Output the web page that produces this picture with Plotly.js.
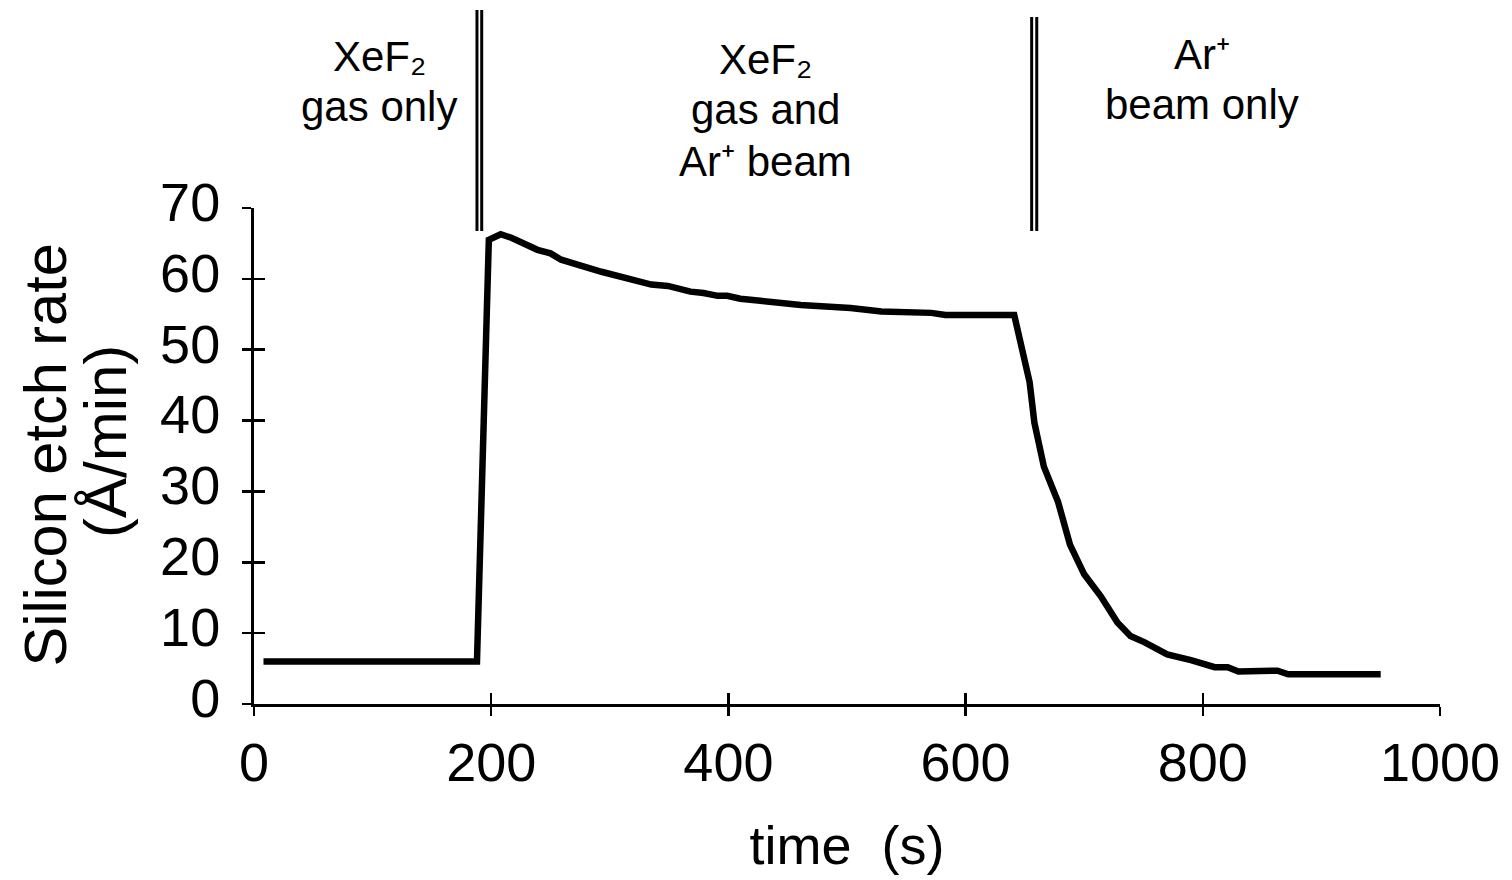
<!DOCTYPE html>
<html>
<head>
<meta charset="utf-8">
<script src="https://cdn.plot.ly/plotly-3.0.1.min.js"></script>
<style>html,body{margin:0;padding:0;background:#fff;}#chart{width:1512px;height:880px;}</style>
</head>
<body>
<div id="chart"></div>
<script>
// ---- data ----
const timeS = [8, 188, 198, 208, 217, 228, 239, 250, 259, 293, 335, 349, 368, 379, 391, 399, 410, 427, 461, 503, 529, 571, 583, 641,
               649, 654, 658, 666, 678, 688, 700, 714, 728, 739, 751, 770, 790, 810, 821, 830, 863, 872, 950];
const etchRate = [6, 6, 65.5, 66.3, 65.8, 65.0, 64.1, 63.6, 62.7, 61.0, 59.2, 59.0, 58.2, 58.0, 57.6, 57.6, 57.2, 56.9, 56.3, 55.9, 55.4, 55.2, 54.9, 54.9,
                  49.0, 45.4, 39.7, 33.5, 28.5, 22.5, 18.3, 15.2, 11.5, 9.6, 8.7, 7.0, 6.2, 5.2, 5.2, 4.6, 4.7, 4.2, 4.2];
const xTicks = [0, 200, 400, 600, 800, 1000];
const yTicks = [0, 10, 20, 30, 40, 50, 60, 70];
const phaseBoundaries = [[188, 192], [655.7, 660]];
const phaseLabelLines = [
  ["XeF\u2082", "gas only"],
  ["XeF\u2082", "gas and", "Ar\u207A beam"],
  ["Ar\u207A", "beam only"]
];
const phaseLabelX = [105.5, 431.5, 799];
const yTitleLines = ["Silicon etch rate", "(Å/min)"];
const xTitle = "time\u00a0\u00a0(s)";

// ---- layout geometry ----
const L = 254, R = 72, T = 208, B = 176, FW = 1512, FH = 880;
const PW = FW - L - R, PH = FH - T - B;
const py = p => (FH - B - p) / PH;   // pixel y -> paper y
const px = p => (p - L) / PW;        // pixel x -> paper x
const FONT = "Liberation Sans, Arial, Helvetica, sans-serif";

const traces = [
  {x: timeS, y: etchRate, type: 'scatter', mode: 'lines', line: {color: '#000', width: 6.5}, hoverinfo: 'skip', showlegend: false},
  {x: timeS, y: etchRate, xaxis: 'x2', yaxis: 'y2', type: 'scatter', mode: 'none', hoverinfo: 'skip', showlegend: false}
];

const shapes = [];
phaseBoundaries.forEach((pair, i) => {
  pair.forEach(xv => {
    shapes.push({type: 'line', xref: 'x', yref: 'paper', x0: xv, x1: xv,
      y0: py(231), y1: py(i === 0 ? 10 : 17), line: {color: '#000', width: 3}});
  });
});

// phase labels: one annotation per line, positioned by target baseline (px)
const AF = 42, ASC = 0.905 * AF, DESC = 0.212 * AF;
const lineBaselines = [[71, 121], [74, 124, 176], [69, 119]];
const annotations = [];
phaseLabelLines.forEach((lines, i) => {
  lines.forEach((t, j) => {
    const base = lineBaselines[i][j];
    annotations.push({text: t, xref: 'x', yref: 'paper', x: phaseLabelX[i],
      y: py(base - (ASC - (ASC + DESC) / 2)),
      xanchor: 'center', yanchor: 'middle', showarrow: false, align: 'center', borderpad: 0,
      font: {family: FONT, size: AF, color: '#000'}});
  });
});
annotations.push({text: yTitleLines[0], xref: 'paper', yref: 'paper', x: px(44.5), y: py(455),
  xanchor: 'center', yanchor: 'middle', textangle: -90, showarrow: false, borderpad: 0,
  font: {family: FONT, size: 59.5, color: '#000'}});
annotations.push({text: yTitleLines[1], xref: 'paper', yref: 'paper', x: px(105), y: py(442),
  xanchor: 'center', yanchor: 'middle', textangle: -90, showarrow: false, borderpad: 0,
  font: {family: FONT, size: 60, color: '#000'}});

const axBase = {showgrid: false, zeroline: false, fixedrange: true};
const layout = {
  width: FW, height: FH,
  margin: {l: L, r: R, t: T, b: B, pad: 0},
  paper_bgcolor: '#fff', plot_bgcolor: '#fff',
  font: {family: FONT, color: '#000'},
  showlegend: false,
  xaxis: Object.assign({}, axBase, {range: [0, 1000], tickvals: xTicks, ticktext: xTicks.map(String),
    ticks: 'outside', ticklen: 9, tickwidth: 2.5, tickcolor: '#000',
    showline: true, linecolor: '#000', linewidth: 3,
    tickfont: {family: FONT, size: 54, color: '#000'}, ticklabelstandoff: 0,
    title: {text: xTitle, font: {family: FONT, size: 54, color: '#000'}, standoff: 36}}),
  yaxis: Object.assign({}, axBase, {range: [0, 70], tickvals: yTicks, ticktext: yTicks.map(String),
    ticks: 'outside', ticklen: 9, tickwidth: 2.5, tickcolor: '#000',
    showline: true, linecolor: '#000', linewidth: 3,
    tickfont: {family: FONT, size: 54, color: '#000'}, ticklabelstandoff: 11, ticklabelshift: -6}),
  xaxis2: Object.assign({}, axBase, {range: [0, 1000], overlaying: 'x', anchor: 'y2', side: 'bottom',
    tickvals: xTicks, ticks: 'inside', ticklen: 11, tickwidth: 2.5, tickcolor: '#000', showticklabels: false, showline: false}),
  yaxis2: Object.assign({}, axBase, {range: [0, 70], overlaying: 'y', anchor: 'x2', side: 'left',
    tickvals: yTicks, ticks: 'inside', ticklen: 11, tickwidth: 2.5, tickcolor: '#000', showticklabels: false, showline: false}),
  shapes: shapes,
  annotations: annotations
};

Plotly.newPlot('chart', traces, layout, {displayModeBar: false, staticPlot: true});
</script>
</body>
</html>
